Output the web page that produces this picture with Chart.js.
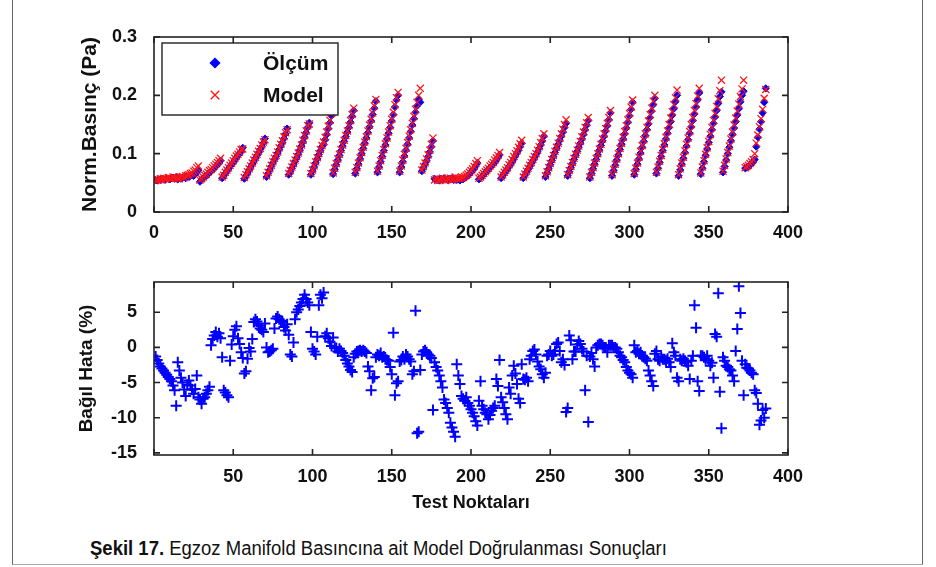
<!DOCTYPE html>
<html>
<head>
<meta charset="utf-8">
<script src="https://cdn.jsdelivr.net/npm/chart.js@4.4.1/dist/chart.umd.min.js"></script>
<style>
  body { margin: 0; background: #fff; }
  #page { position: relative; width: 936px; height: 567px; overflow: hidden; background: #fff; }
  #frame { position: absolute; left: 12px; top: 0; width: 909px; height: 564px;
           border-left: 1px solid #666; border-right: 1px solid #666; border-bottom: 1px solid #aaa; }
  canvas { position: absolute; left: 0; }
  #top { top: 0; }
  #bot { top: 250px; }
  #caption { position: absolute; left: 90px; top: 537px; white-space: nowrap;
             transform: scaleX(0.925); transform-origin: 0 50%;
             font: 20px "Liberation Sans", Arial, sans-serif; color: #111; }
</style>
</head>
<body>
<div id="page">
  <div id="frame"></div>
  <canvas id="top" width="936" height="255"></canvas>
  <canvas id="bot" width="936" height="268"></canvas>
  <div id="caption"><b>Şekil 17.</b> Egzoz Manifold Basıncına ait Model Doğrulanması Sonuçları</div>
</div>
<script>
// test points are numbered 1..386, one value per point

// Ölçüm (measured), points 1-176
const olcum1 = [
  .055,.054,.056,.055,.057,.056,.055,.058,.057,.056,.058,.059,.057,.060,
  .056,.058,.057,.059,.060,.058,.061,.060,.062,.063,.062,.065,.068,.072,
  .052,.055,.058,.060,.062,.065,.067,.070,.072,.075,.078,.081,.084,.088,
  .058,.062,.066,.070,.074,.078,.081,.085,.089,.093,.097,.100,.104,.110,
  .057,.062,.067,.072,.077,.082,.087,.092,.097,.102,.107,.112,.118,.126,
  .060,.066,.072,.078,.084,.090,.095,.101,.107,.113,.119,.126,.134,.143,
  .064,.069,.075,.081,.087,.093,.099,.106,.113,.120,.128,.136,.145,.153,
  .064,.070,.077,.084,.091,.098,.105,.112,.116,.124,.133,.143,.153,.165,
  .065,.073,.081,.089,.097,.105,.113,.121,.129,.137,.145,.154,.164,.174,
  .066,.074,.082,.091,.100,.109,.118,.127,.136,.146,.156,.167,.178,.190,
  .068,.077,.086,.095,.105,.115,.125,.135,.145,.156,.167,.180,.192,.200,
  .068,.077,.086,.096,.106,.116,.127,.138,.149,.160,.171,.182,.193,.188,
  .070,.076,.082,.088,.095,.103,.112,.122
];
// Ölçüm, points 177-386
const olcum2 = [
  .057,.055,.056,.054,.057,.055,.058,.056,.055,.057,.056,.058,.055,.057,
  .055,.056,.054,.057,.056,.058,.060,.062,.065,.068,.071,.075,.079,.084,
  .056,.058,.061,.064,.067,.070,.073,.076,.079,.082,.085,.089,.093,.098,
  .058,.062,.066,.070,.074,.078,.082,.086,.091,.096,.101,.106,.112,.118,
  .058,.063,.068,.073,.078,.083,.088,.093,.098,.103,.109,.115,.122,.130,
  .060,.067,.074,.081,.088,.095,.102,.109,.116,.123,.130,.137,.145,.152,
  .062,.069,.076,.083,.090,.097,.104,.111,.118,.125,.133,.141,.149,.157,
  .058,.066,.074,.082,.090,.098,.106,.114,.122,.130,.139,.148,.158,.170,
  .062,.071,.080,.089,.098,.107,.116,.125,.134,.144,.154,.165,.176,.188,
  .064,.073,.082,.091,.101,.111,.121,.131,.141,.151,.162,.173,.184,.195,
  .066,.075,.085,.095,.105,.115,.125,.135,.145,.155,.166,.177,.189,.200,
  .062,.072,.082,.092,.102,.113,.124,.135,.146,.157,.168,.180,.192,.204,
  .065,.075,.086,.097,.108,.119,.130,.141,.152,.163,.174,.186,.198,.206,
  .068,.078,.089,.100,.111,.122,.133,.144,.155,.166,.177,.189,.200,.207,
  .075,.076,.078,.080,.083,.086,.090,.112,.128,.142,.155,.170,.188,.212
];

// Model, points 1-176
const model1 = [
  .054,.055,.055,.057,.056,.058,.057,.057,.059,.058,.057,.060,.059,.058,
  .058,.057,.060,.061,.059,.062,.063,.064,.066,.067,.070,.072,.076,.079,
  .055,.057,.060,.063,.065,.068,.071,.073,.076,.079,.082,.085,.088,.092,
  .060,.063,.068,.072,.076,.080,.084,.088,.092,.096,.099,.103,.107,.108,
  .059,.064,.069,.074,.079,.084,.089,.094,.099,.104,.109,.115,.120,.124,
  .062,.068,.074,.080,.086,.092,.097,.103,.110,.116,.122,.129,.136,.141,
  .066,.071,.077,.083,.089,.095,.101,.108,.115,.123,.131,.139,.148,.151,
  .066,.072,.079,.086,.093,.100,.107,.114,.120,.128,.137,.147,.157,.169,
  .067,.075,.083,.091,.099,.107,.115,.123,.131,.139,.148,.157,.167,.178,
  .068,.076,.084,.093,.102,.111,.120,.129,.139,.149,.159,.170,.182,.193,
  .070,.079,.088,.097,.107,.117,.127,.137,.148,.159,.171,.184,.196,.205,
  .070,.079,.089,.099,.109,.119,.130,.141,.152,.164,.176,.188,.200,.212,
  .072,.078,.084,.091,.098,.106,.116,.127
];
// Model, points 177-386
const model2 = [
  .055,.057,.054,.056,.055,.058,.056,.054,.057,.056,.058,.055,.057,.060,
  .057,.058,.057,.059,.059,.061,.063,.065,.068,.071,.074,.078,.083,.088,
  .058,.060,.063,.066,.069,.072,.075,.079,.082,.085,.089,.093,.097,.102,
  .060,.064,.068,.072,.076,.081,.085,.090,.095,.100,.105,.111,.117,.123,
  .060,.065,.070,.075,.080,.085,.090,.095,.100,.106,.112,.119,.126,.134,
  .062,.069,.076,.083,.090,.097,.104,.111,.118,.126,.134,.142,.150,.158,
  .064,.071,.078,.085,.092,.099,.106,.113,.121,.129,.137,.145,.153,.162,
  .060,.068,.076,.084,.092,.100,.108,.116,.125,.134,.143,.152,.162,.174,
  .064,.073,.082,.091,.100,.109,.118,.128,.138,.148,.158,.169,.180,.192,
  .066,.075,.084,.094,.104,.114,.124,.134,.145,.156,.167,.178,.190,.200,
  .068,.077,.087,.097,.107,.117,.128,.139,.150,.161,.172,.184,.196,.209,
  .064,.074,.084,.094,.105,.116,.127,.138,.150,.162,.174,.186,.199,.212,
  .067,.077,.088,.099,.110,.121,.133,.145,.157,.169,.181,.194,.208,.226,
  .070,.080,.091,.102,.113,.125,.137,.149,.161,.173,.185,.198,.211,.226,
  .076,.078,.080,.083,.086,.090,.100,.118,.132,.146,.160,.176,.195,.210
];

// Bağıl Hata (%), points 1-176
const hata1 = [
  -1.3,-1.8,-2.3,-2.7,-3.0,-3.3,-3.6,-3.9,-4.2,-4.5,-4.8,-5.4,-6.1,-8.3,
  -2.1,-3.3,-4.3,-5.0,-6.0,-6.9,-5.3,-4.7,-5.4,-6.0,-6.6,-5.9,-4.0,-7.1,
  -7.4,-8.0,-7.3,-7.1,-6.6,-6.1,-5.6,0.3,1.2,1.7,2.2,1.5,2.0,1.3,
  -1.4,-6.1,-6.4,-6.8,-7.1,-1.9,0.4,1.6,2.5,3.0,1.3,0.5,-0.7,-1.5,
  -3.7,-3.4,-1.6,-0.1,-0.6,1.2,3.6,4.0,3.7,3.1,2.7,2.5,2.2,3.4,
  0.0,-0.7,-0.6,-0.4,-0.2,2.7,4.1,4.4,4.0,3.8,3.6,2.9,2.4,3.3,
  1.8,-1.0,-1.3,0.7,4.0,5.0,5.4,5.9,6.4,6.9,7.5,6.9,6.4,6.0,
  2.2,-0.2,-0.6,-1.0,1.5,6.0,7.5,7.0,7.8,1.6,2.0,1.3,0.8,0.2,
  1.4,-0.1,-0.1,-0.6,-0.2,-0.5,-0.8,-1.2,-1.8,-2.3,-2.7,-3.2,-3.5,-1.4,
  -0.9,-0.6,-0.5,-0.4,-0.6,-0.4,-0.6,-0.8,-2.7,-3.4,-6.1,-4.4,-4.2,-1.4,
  -1.0,-1.2,-0.8,-1.4,-1.3,-1.7,-1.8,-1.9,-2.8,-3.8,2.1,-6.8,-5.1,-4.8,
  -2.0,-1.8,-1.3,-1.7,-1.0,-1.3,-1.7,-2.0,-3.8,-3.4,5.2,-12.2,-12.0,-3.2,
  -1.0,-0.6,-0.4,-0.7,-1.0,-1.2,-1.5,-8.9
];
// Bağıl Hata (%), points 177-386
const hata2 = [
  -2.1,-2.8,-3.3,-4.0,-4.8,-5.7,-7.4,-7.9,-8.6,-9.3,-10.7,-11.4,-12.0,-12.7,
  -2.4,-4.0,-5.2,-6.9,-7.3,-7.6,-7.1,-7.9,-8.3,-8.8,-9.3,-9.8,-10.5,-11.1,
  -7.6,-4.8,-8.3,-8.8,-9.3,-9.5,-10.2,-9.6,-9.0,-8.6,-8.3,-4.5,-5.5,-1.8,
  -7.1,-7.8,-8.6,-9.5,-10.2,-5.7,-6.6,-4.0,-2.6,-3.7,-5.2,-7.3,-7.9,-2.4,
  -4.5,-4.6,-4.3,-4.8,-1.7,-1.2,-0.5,-0.3,-1.0,-2.0,-2.7,-3.1,-3.8,-4.3,
  -3.6,-1.2,-1.0,-0.5,-1.2,-1.0,-0.5,0.5,0.7,-0.5,-2.1,-1.7,-2.5,-9.2,
  -8.6,1.7,1.0,-1.7,-0.6,-0.6,0.4,0.9,0.5,-0.2,-0.6,-6.1,-1.2,-10.6,
  -1.3,-0.8,-1.7,-2.7,0.0,0.3,0.5,0.5,0.3,0.0,0.0,-0.7,0.3,0.3,
  0.3,0.0,0.0,-0.2,-0.7,-1.2,-1.4,-1.8,-2.1,-2.8,-3.3,-3.6,-3.8,-4.3,
  0.3,-0.7,-0.5,-0.9,-0.7,-1.2,-1.4,-1.6,-1.9,-3.3,-4.0,-4.8,-5.5,-0.9,
  -0.5,-1.7,-1.9,-1.4,-1.7,-1.7,-1.9,-1.6,-2.1,-2.8,0.6,-0.7,-1.2,-4.3,
  -4.8,-1.7,-1.9,-1.6,-1.9,-2.1,-2.6,-4.5,-1.9,-1.2,6.0,2.8,-4.8,-6.2,
  -1.2,-1.2,-1.4,-1.7,-1.2,-1.9,-2.6,-2.2,-4.3,1.9,1.5,7.7,-6.3,-11.5,
  -1.4,-1.9,-2.6,-2.8,-3.1,-3.3,-4.0,-4.8,-0.5,2.6,8.7,4.9,-1.9,-6.8,
  -2.4,-2.9,-3.0,-3.3,-3.6,-3.8,-6.1,-6.5,-8.0,-11.0,-10.4,-8.9,-10.0,-8.7
];

const olcum = olcum1.concat(olcum2);
const model = model1.concat(model2);
const hata = hata1.concat(hata2);

const toPoints = arr => arr.map((v, i) => ({ x: i + 1, y: v }));

Chart.defaults.font.family = '"Liberation Sans", Arial, sans-serif';
Chart.defaults.color = '#111';

// MATLAB style box with inward tick marks on all four sides
const boxTicks = {
  id: 'boxTicks',
  afterDatasetsDraw(chart) {
    const { ctx, chartArea: a, scales } = chart;
    ctx.save();
    ctx.strokeStyle = '#222';
    ctx.lineWidth = 1.6;
    ctx.strokeRect(a.left, a.top, a.right - a.left, a.bottom - a.top);
    ctx.beginPath();
    scales.x.ticks.forEach(t => {
      const px = scales.x.getPixelForValue(t.value);
      ctx.moveTo(px, a.bottom); ctx.lineTo(px, a.bottom - 6);
      ctx.moveTo(px, a.top); ctx.lineTo(px, a.top + 6);
    });
    scales.y.ticks.forEach(t => {
      const py = scales.y.getPixelForValue(t.value);
      ctx.moveTo(a.left, py); ctx.lineTo(a.left + 6, py);
      ctx.moveTo(a.right, py); ctx.lineTo(a.right - 6, py);
    });
    ctx.stroke();
    ctx.restore();
  }
};

// legend box inside the plot, upper left
const insideLegend = {
  id: 'insideLegend',
  afterDatasetsDraw(chart) {
    const ctx = chart.ctx;
    const x0 = 162, y0 = 43, w = 176, h = 72;
    ctx.save();
    ctx.fillStyle = '#fff';
    ctx.fillRect(x0, y0, w, h);
    ctx.strokeStyle = '#222';
    ctx.lineWidth = 1.4;
    ctx.strokeRect(x0, y0, w, h);
    const rows = [chart.data.datasets[1], chart.data.datasets[0]];
    rows.forEach((ds, i) => {
      const cy = y0 + 20 + i * 32;
      ctx.fillStyle = ds.backgroundColor;
      ctx.strokeStyle = ds.borderColor;
      Chart.helpers.drawPoint(ctx, {
        pointStyle: ds.pointStyle, radius: ds.pointRadius + 1,
        borderWidth: ds.borderWidth, rotation: 0
      }, 215, cy);
      ctx.fillStyle = '#111';
      ctx.font = 'bold 21px "Liberation Sans", Arial, sans-serif';
      ctx.textBaseline = 'middle';
      ctx.fillText(ds.label, 263, cy + 1);
    });
    ctx.restore();
  }
};

const tickFont = { size: 18, weight: 'bold' };

new Chart(document.getElementById('top'), {
  type: 'scatter',
  data: {
    datasets: [
      { label: 'Model', data: toPoints(model), order: 0,
        pointStyle: 'crossRot', pointRadius: 5, borderWidth: 1.3,
        borderColor: '#ff1414', backgroundColor: '#ff1414' },
      { label: 'Ölçüm', data: toPoints(olcum), order: 1,
        pointStyle: 'rectRot', pointRadius: 3.6, borderWidth: 1,
        borderColor: '#0000ff', backgroundColor: '#0000ff' }
    ]
  },
  options: {
    responsive: false,
    animation: false,
    devicePixelRatio: 1,
    layout: { padding: { left: 74, top: 37, right: 148, bottom: 0 } },
    plugins: { legend: { display: false }, tooltip: { enabled: false } },
    scales: {
      x: {
        type: 'linear', min: 0, max: 400,
        grid: { display: false }, border: { display: false },
        ticks: { stepSize: 50, font: tickFont, padding: 2, maxRotation: 0 },
        afterFit: s => { s.height = 43; }
      },
      y: {
        min: 0, max: 0.3,
        grid: { display: false }, border: { display: false },
        ticks: { stepSize: 0.1, font: tickFont, padding: 9,
                 callback: v => String(Math.round(v * 10) / 10) },
        title: { display: true, text: 'Norm.Basınç (Pa)', font: { size: 21, weight: 'bold' }, color: '#111' },
        afterFit: s => { s.width = 80; }
      }
    }
  },
  plugins: [boxTicks, insideLegend]
});

new Chart(document.getElementById('bot'), {
  type: 'scatter',
  data: {
    datasets: [
      { label: 'Bağıl Hata', data: toPoints(hata),
        pointStyle: 'cross', pointRadius: 5.5, borderWidth: 2,
        borderColor: '#0000ff', backgroundColor: '#0000ff' }
    ]
  },
  options: {
    responsive: false,
    animation: false,
    devicePixelRatio: 1,
    layout: { padding: { left: 71, top: 32, right: 148, bottom: 0 } },
    plugins: { legend: { display: false }, tooltip: { enabled: false } },
    scales: {
      x: {
        type: 'linear', min: 0, max: 400,
        grid: { display: false }, border: { display: false },
        ticks: { stepSize: 50, font: tickFont, padding: 3, maxRotation: 0,
                 callback: v => v === 0 ? '' : v },
        title: { display: true, text: 'Test Noktaları', font: { size: 18, weight: 'bold' }, color: '#111' },
        afterFit: s => { s.height = 63; }
      },
      y: {
        min: -15.3, max: 9.3,
        grid: { display: false }, border: { display: false },
        ticks: { stepSize: 5, includeBounds: false, font: tickFont, padding: 9 },
        title: { display: true, text: 'Bağıl Hata (%)', font: { size: 19, weight: 'bold' }, color: '#111' },
        afterFit: s => { s.width = 83; }
      }
    }
  },
  plugins: [boxTicks]
});
</script>
</body>
</html>
